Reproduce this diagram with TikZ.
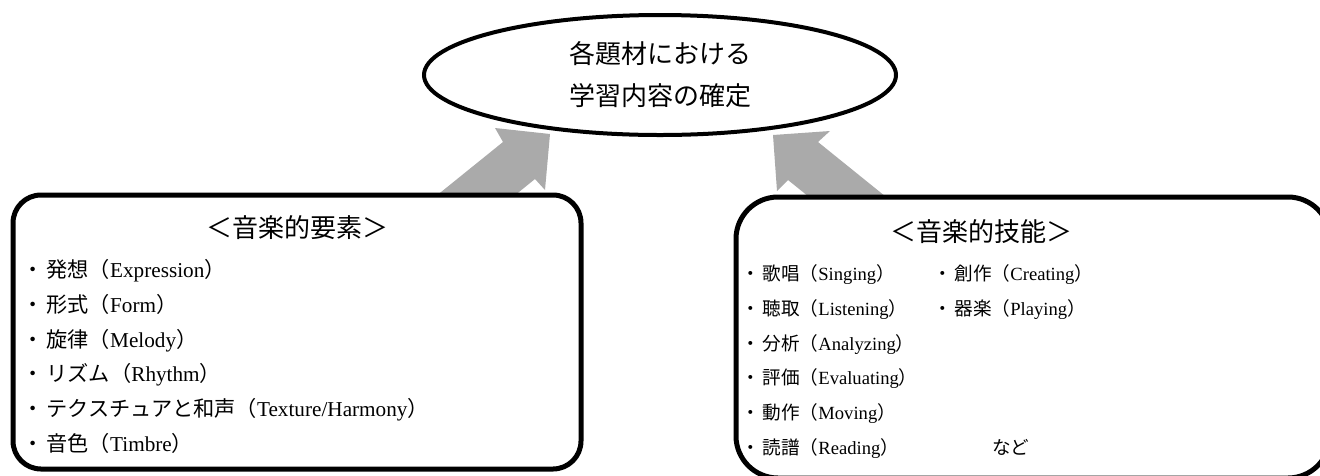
\documentclass[tikz,border=0pt]{standalone}
\usepackage{fontspec}
\setmainfont{Liberation Serif}
\newfontfamily\jp{Noto Sans CJK JP}
\usetikzlibrary{shapes.geometric}
\definecolor{arrowgray}{RGB}{170,170,170}
\newcommand\itm[2]{{\jp ・\kern0.15em#1（}#2{\jp ）}}
\tikzset{
  blockarrow/.style={fill=arrowgray, draw=none},
  oval/.style={draw, ellipse, line width=4pt, fill=white, inner sep=0pt, align=center,
    font=\jp\fontsize{26}{42}\selectfont},
  roundbox/.style={draw, rectangle, line width=5pt, fill=white, inner sep=0pt},
  boxtitle/.style={inner sep=0pt, font=\jp\fontsize{26}{30}\selectfont},
  leftitem/.style={inner sep=0pt, anchor=base west, font=\fontsize{21.2}{26}\selectfont},
  rightitem/.style={inner sep=0pt, anchor=base west, font=\fontsize{18.6}{24}\selectfont},
}
\begin{document}
\begin{tikzpicture}[x=1pt,y=-1pt]
\useasboundingbox (0,0) rectangle (1320,475);
% block arrows (tails hidden behind the boxes)
\fill[blockarrow] (394,230) -- (503,142) -- (495,128) -- (550,134) -- (545,190) -- (535,179) -- (472,230) -- cycle;
\fill[blockarrow] (927,230) -- (818,142) -- (830,131) -- (773,135) -- (777,191) -- (788,180) -- (850,230) -- cycle;
% goal ellipse
\node[oval, minimum width=472pt, minimum height=120pt] (goal) at (660,75) {各題材における\\学習内容の確定};
% left box
\node[roundbox, rounded corners=28pt, minimum width=568pt, minimum height=274pt] (elem) at (297,332) {};
\node[boxtitle] (elemtitle) at (297,228) {＜音楽的要素＞};
\node[leftitem] (e1) at (22,277) {\itm{発想}{Expression}};
\node[leftitem] (e2) at (22,312) {\itm{形式}{Form}};
\node[leftitem] (e3) at (22,347) {\itm{旋律}{Melody}};
\node[leftitem] (e4) at (22,381) {\itm{リズム}{Rhythm}};
\node[leftitem] (e5) at (22,416) {\itm{テクスチュアと和声}{Texture/Harmony}};
\node[leftitem] (e6) at (22,451) {\itm{音色}{Timbre}};
% right box
\node[roundbox, rounded corners=42pt, minimum width=594pt, minimum height=281pt] (skill) at (1033,337.5) {};
\node[boxtitle] (skilltitle) at (981,232) {＜音楽的技能＞};
\node[rightitem] (s1) at (741,280) {\itm{歌唱}{Singing}};
\node[rightitem] (s2) at (741,315) {\itm{聴取}{Listening}};
\node[rightitem] (s3) at (741,350) {\itm{分析}{Analyzing}};
\node[rightitem] (s4) at (741,384) {\itm{評価}{Evaluating}};
\node[rightitem] (s5) at (741,419) {\itm{動作}{Moving}};
\node[rightitem] (s6) at (741,454) {\itm{読譜}{Reading}};
\node[rightitem] (s7) at (933,280) {\itm{創作}{Creating}};
\node[rightitem] (s8) at (933,315) {\itm{器楽}{Playing}};
\node[rightitem] (etc) at (992,454) {{\jp など}};
\end{tikzpicture}
\end{document}
